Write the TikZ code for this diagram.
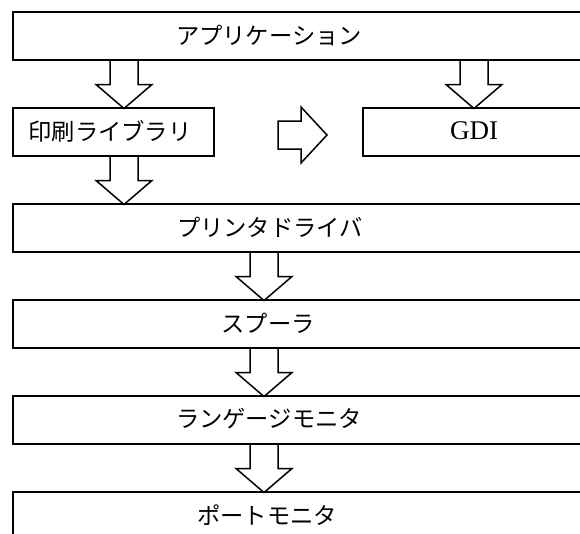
\documentclass[tikz,border=0pt]{standalone}
\usepackage{fontspec}
\newfontfamily\jp{Noto Sans CJK JP}
\newfontfamily\lat{Liberation Serif}
\begin{document}
\begin{tikzpicture}[x=1pt,y=-1pt,
  box/.style={draw,line width=1.5pt,inner sep=0pt,anchor=north west},
  lbl/.style={font=\jp\fontsize{23.3}{27}\selectfont,inner sep=0pt},
  latlbl/.style={font=\lat\fontsize{27}{31}\selectfont,inner sep=0pt},
  pics/downarr/.style={code={
    \draw[line width=1.5pt,line join=miter] (-14,0) -- (-14,24) -- (-28,24) -- (0,48) -- (28,24) -- (14,24) -- (14,0);}},
  pics/rightarr/.style={code={
    \draw[line width=1.5pt,line join=miter] (0,-14) -- (23,-14) -- (23,-28) -- (49,0) -- (23,28) -- (23,14) -- (0,14) -- cycle;}}
]
\useasboundingbox (0,0) rectangle (580,533);
\clip (0,0) rectangle (580,533);
% boxes
\node[box,minimum width=578pt,minimum height=48pt] (app) at (12,11) {};
\node[box,minimum width=201pt,minimum height=48pt] (lib) at (12,107) {};
\node[box,minimum width=228pt,minimum height=48pt] (gdi) at (362,107) {};
\node[box,minimum width=578pt,minimum height=48pt] (drv) at (12,203) {};
\node[box,minimum width=578pt,minimum height=48pt] (spl) at (12,299) {};
\node[box,minimum width=578pt,minimum height=48pt] (lang) at (12,395) {};
\node[box,minimum width=578pt,minimum height=48pt] (port) at (12,491) {};
% labels
\node[lbl] (tapp) at (269,35) {アプリケーション};
\node[lbl] (tlib) at (110,131) {印刷ライブラリ};
\node[latlbl] (tgdi) at (474,131) {GDI};
\node[lbl] (tdrv) at (270,227) {プリンタドライバ};
\node[lbl] (tspl) at (268,323) {スプーラ};
\node[lbl] (tlang) at (269,419) {ランゲージモニタ};
\node[lbl] (tport) at (267,515) {ポートモニタ};
% arrows
\coordinate (cl) at (124,0);
\coordinate (cr) at (474,0);
\coordinate (cm) at (264,0);
\pic at (app.south -| cl) {downarr};
\pic at (app.south -| cr) {downarr};
\pic at (lib.south -| cl) {downarr};
\pic at (drv.south -| cm) {downarr};
\pic at (spl.south -| cm) {downarr};
\pic at (lang.south -| cm) {downarr};
\coordinate (ha) at (278,135);
\pic at (ha) {rightarr};
\end{tikzpicture}
\end{document}
